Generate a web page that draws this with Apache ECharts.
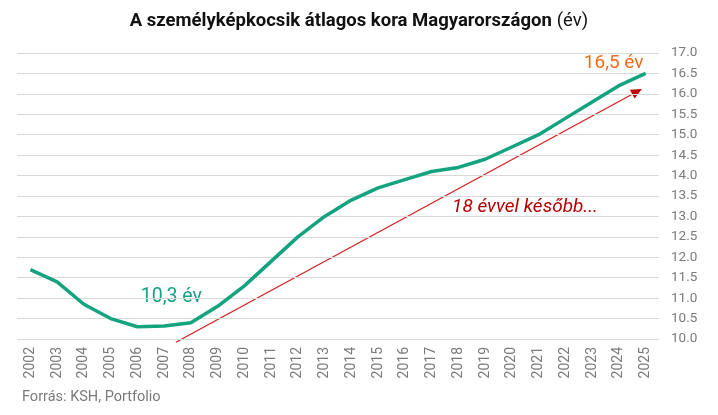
<!DOCTYPE html>
<html>
<head>
<meta charset="utf-8">
<script src="https://cdn.jsdelivr.net/npm/echarts@6/dist/echarts.min.js"></script>
<style>
  html, body { margin: 0; padding: 0; background: #fff; }
  #chart { width: 718px; height: 415px; }
</style>
</head>
<body>
<div id="chart"></div>
<script>
// évek és átlagos életkor (év)
const years = ['2002', '2003', '2004', '2005', '2006', '2007', '2008', '2009', '2010', '2011', '2012', '2013',
  '2014', '2015', '2016', '2017', '2018', '2019', '2020', '2021', '2022', '2023', '2024', '2025']
const avgAge = [11.7, 11.4, 10.85, 10.5, 10.3, 10.32, 10.4, 10.8, 11.3, 11.9, 12.5, 13.0,
  13.4, 13.7, 13.9, 14.1, 14.2, 14.4, 14.7, 15.0, 15.4, 15.8, 16.2, 16.5]
// nyíl kezdete / vége: [kategória index, érték]
const arrowFrom = [5.44, 9.92]
const arrowTo = [22.86, 16.12]

const chart = echarts.init(document.getElementById('chart'))
const gray = '#7a7a7a'
const source = {
  type: 'text', left: 22, top: 390,
  style: { text: 'Forrás: KSH, Portfolio', fill: gray, font: '14.5px Roboto' }
}

chart.setOption({
  animation: false,
  title: {
    text: '{b|A személyképkocsik átlagos kora Magyarországon} {n|(év)}',
    left: 'center',
    top: 7,
    textStyle: {
      rich: {
        b: { fontFamily: 'Roboto', fontWeight: 'bold', fontSize: 18.5, color: '#111' },
        n: { fontFamily: 'Roboto', fontWeight: 'normal', fontSize: 18.5, color: '#111' }
      }
    }
  },
  grid: { left: 17, right: 59, top: 53, bottom: 76 },
  xAxis: {
    type: 'category',
    data: years,
    boundaryGap: true,
    axisLine: { show: false },
    axisTick: { show: false },
    axisLabel: { rotate: 90, color: gray, fontFamily: 'Roboto', fontSize: 14, margin: 8 }
  },
  yAxis: {
    type: 'value',
    position: 'right',
    min: 10,
    max: 17,
    interval: 0.5,
    axisLine: { show: false },
    axisTick: { show: false },
    splitLine: { lineStyle: { color: '#d9d9d9', width: 1 } },
    axisLabel: {
      color: gray, fontFamily: 'Roboto', fontSize: 13.5, margin: 12,
      formatter: v => v.toFixed(1)
    }
  },
  series: [{
    type: 'line',
    data: avgAge,
    symbol: 'none',
    lineStyle: { color: '#13a37f', width: 3.5 },
    z: 3
  }],
  graphic: [source]
})

// jegyzetek az adattérből számolt pixelhelyekkel
const px = p => chart.convertToPixel({ gridIndex: 0 }, p)
const lerpX = idx => {
  const a = px([Math.floor(idx), 10])[0]
  const b = px([Math.floor(idx) + 1, 10])[0]
  return a + (b - a) * (idx - Math.floor(idx))
}
const start = [lerpX(arrowFrom[0]), px([0, arrowFrom[1]])[1]]
const end = [lerpX(arrowTo[0]), px([0, arrowTo[1]])[1]]
const ang = Math.atan2(end[1] - start[1], end[0] - start[0])
const hl = 11, hw = 5
const base = [end[0] - hl * Math.cos(ang), end[1] - hl * Math.sin(ang)]
const minPt = px([4, 10.3])
const maxPt = px([23, 16.5])

chart.setOption({
  graphic: [
    source,
    {
      type: 'line',
      shape: { x1: start[0], y1: start[1], x2: base[0], y2: base[1] },
      style: { stroke: '#d41c1c', lineWidth: 1.2 }
    },
    {
      type: 'polygon',
      shape: {
        points: [
          end,
          [base[0] + hw * Math.sin(ang), base[1] - hw * Math.cos(ang)],
          [base[0] - hw * Math.sin(ang), base[1] + hw * Math.cos(ang)]
        ]
      },
      style: { fill: '#c00000' }
    },
    {
      type: 'text', x: minPt[0] + 34, y: minPt[1] - 30,
      style: { text: '10,3 év', fill: '#14a285', font: '19.5px Roboto', textAlign: 'center', textVerticalAlign: 'middle' }
    },
    {
      type: 'text', x: maxPt[0] - 32, y: maxPt[1] - 10,
      style: { text: '16,5 év', fill: '#f46a1f', font: '19px Roboto', textAlign: 'center', textVerticalAlign: 'middle' }
    },
    {
      type: 'text', x: 525, y: 207,
      style: { text: '18 évvel később...', fill: '#b30000', font: 'italic 19px Roboto', textAlign: 'center', textVerticalAlign: 'middle' }
    }
  ]
})
</script>
</body>
</html>
